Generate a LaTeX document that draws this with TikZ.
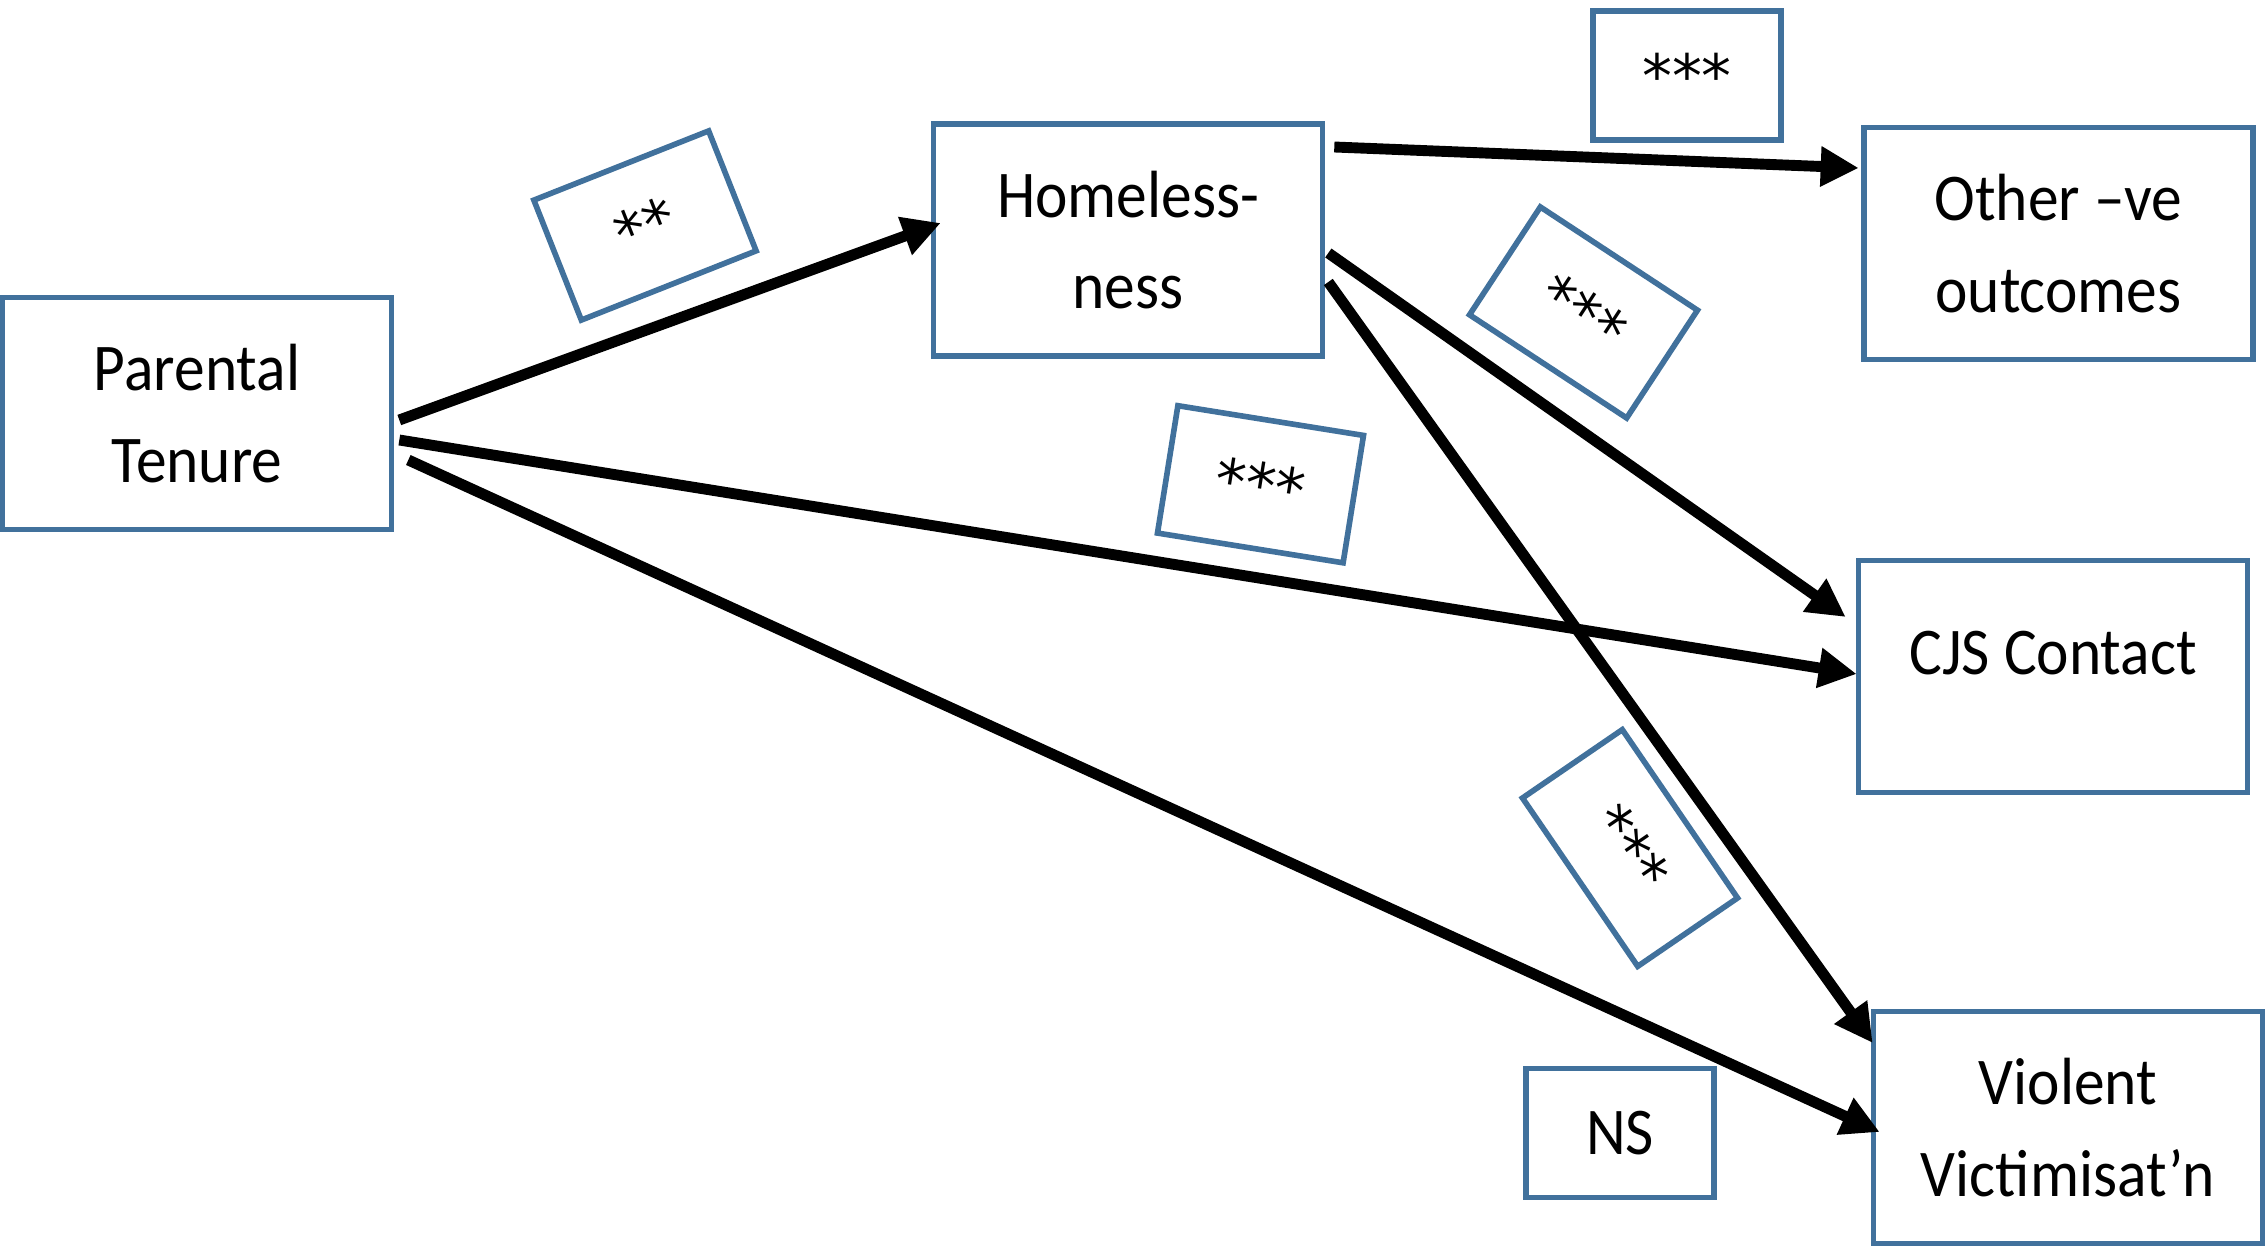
\documentclass[tikz,border=0pt]{standalone}
\usepackage{fontspec}
\setmainfont{Carlito}[FakeStretch=0.92]
\newfontfamily\starfont{DejaVu Sans}
\usepackage{xcolor}
\usetikzlibrary{positioning,arrows.meta}
\definecolor{boxblue}{RGB}{65,113,156}

\begin{document}
\begin{tikzpicture}[font=\fontsize{19pt}{26pt}\selectfont,
	box/.style={draw=boxblue, line width=1.6pt, minimum width=3.89cm, minimum height=2.32cm, align=center, inner sep=0pt},
	sig/.style={draw=boxblue, line width=1.6pt, minimum width=1.88cm, minimum height=1.29cm, inner sep=0pt},
	stars/.style={sig, font=\starfont\fontsize{17pt}{20pt}\selectfont},
	arr/.style={line width=3.1pt, -{Triangle[length=0.38cm, width=0.38cm]}}]
		\useasboundingbox (0,0) rectangle (22.65,12.46);
		% variables
		\node[box] (pt) at (1.97,8.325) {Parental\\Tenure};
		\node[box] (hl) at (11.28,10.06) {Homeless-\\ness};
		\node[box] (oth) at (20.585,10.025) {Other –ve\\outcomes};
		\node[box, text depth=0.48cm] (cjs) at (20.53,5.695) {CJS Contact};
		\node[box] (vv) at (20.68,1.185) {Violent\\Victimisat’n};
		% significance
		\node[stars] (s1) at (16.87,11.705) {***};
		\node[sig] (ns) at (16.20,1.13) {NS};
		\node[stars, rotate=21.6] (s2) at (6.45,10.205) {**};
		\node[stars, rotate=-33.3] (s3) at (15.835,9.335) {***};
		\node[stars, rotate=-9.1] (s4) at (12.605,7.6175) {***};
		\node[stars, rotate=-55.6, minimum width=2.04cm, minimum height=1.21cm] (s5) at (16.30,3.98) {***};
		% paths
		\draw[arr] ([xshift=0.05cm, yshift=-0.065cm]pt.east) -- ([xshift=0.1cm, yshift=0.17cm]hl.west);
		\draw[arr] ([xshift=0.09cm, yshift=0.93cm]hl.east) -- ([xshift=-0.025cm, yshift=0.755cm]oth.west);
		\draw[arr] ([xshift=0.03cm, yshift=-0.13cm]hl.east) -- ([xshift=-0.1cm, yshift=0.595cm]cjs.west);
		\draw[arr] ([xshift=0.03cm, yshift=-0.42cm]hl.east) -- ([xshift=0.02cm, yshift=0.845cm]vv.west);
		\draw[arr] ([xshift=0.05cm, yshift=-0.265cm]pt.east) -- ([xshift=0.01cm, yshift=0.025cm]cjs.west);
		\draw[arr] ([xshift=0.14cm, yshift=-0.465cm]pt.east) -- ([xshift=0.09cm, yshift=-0.045cm]vv.west);
	\end{tikzpicture}
\end{document}
